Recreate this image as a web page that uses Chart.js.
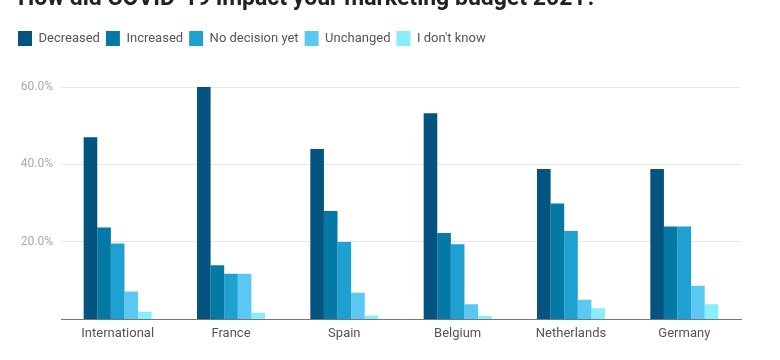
<!DOCTYPE html>
<html>
<head>
<meta charset="utf-8">
<script src="https://cdn.jsdelivr.net/npm/chart.js@4"></script>
<style>
    html, body { margin: 0; padding: 0; background: #fff; overflow: hidden; }
    #wrap { position: relative; width: 780px; height: 360px; }
    #title {
        position: absolute; left: 18px; top: -14px; margin: 0;
        font: bold 23px Roboto, "Open Sans", sans-serif; line-height: 23px;
        color: #222; white-space: nowrap;
    }
</style>
</head>
<body>
<div id="wrap">
    <canvas id="budgetChart" width="780" height="360"></canvas>
    <h1 id="title">How did COVID-19 impact your marketing budget 2021?</h1>
</div>
<script>
const countries = ['International', 'France', 'Spain', 'Belgium', 'Netherlands', 'Germany'];
const decreased = [47, 60, 44, 53.2, 38.8, 38.8];
const increased = [23.7, 14, 28, 22.3, 29.9, 24];
const noDecision = [19.6, 11.8, 20, 19.4, 22.8, 24];
const unchanged = [7.2, 11.8, 6.9, 3.9, 5.1, 8.7];
const dontKnow = [2, 1.7, 1, 0.9, 2.9, 3.9];
const yTicks = [0, 20, 40, 60];

// legend con mas espacio por debajo
const legendGap = {
    id: 'legendGap',
    beforeInit(chart) {
        const fit = chart.legend.fit;
        chart.legend.fit = function() {
            fit.bind(chart.legend)();
            this.height += 31;
        };
    }
};

const ctx = document.getElementById('budgetChart').getContext('2d');
new Chart(ctx, {
    type: 'bar',
    data: {
        labels: countries,
        datasets: [
            { label: 'Decreased', data: decreased, backgroundColor: '#03557f' },
            { label: 'Increased', data: increased, backgroundColor: '#0479a6' },
            { label: 'No decision yet', data: noDecision, backgroundColor: '#1ea1d1' },
            { label: 'Unchanged', data: unchanged, backgroundColor: '#5bc8f4' },
            { label: "I don't know", data: dontKnow, backgroundColor: '#88eefa' }
        ]
    },
    options: {
        responsive: false,
        animation: false,
        datasets: { bar: { barPercentage: 1, categoryPercentage: 0.6 } },
        layout: { padding: { left: 12, top: 25, right: 39, bottom: 11 } },
        plugins: {
            legend: {
                position: 'top',
                align: 'start',
                labels: {
                    boxWidth: 14, boxHeight: 15, padding: 6, color: '#555',
                    font: { family: 'Roboto', size: 13 }
                }
            },
            tooltip: { enabled: false }
        },
        scales: {
            x: {
                grid: { display: false, drawTicks: false },
                border: { color: '#777', width: 1 },
                ticks: { color: '#555', padding: 7, font: { family: 'Roboto', size: 13 } }
            },
            y: {
                min: 0, max: 60,
                grid: { color: '#e8e8e8', drawTicks: false },
                border: { display: false },
                afterBuildTicks(axis) { axis.ticks = yTicks.map(v => ({ value: v })); },
                afterFit(axis) { axis.width = 49; },
                ticks: {
                    color: '#aaa', padding: 8, font: { family: 'Roboto', size: 12 },
                    callback: v => v === 0 ? '' : v.toFixed(1) + '%'
                }
            }
        }
    },
    plugins: [legendGap]
});
</script>
</body>
</html>
